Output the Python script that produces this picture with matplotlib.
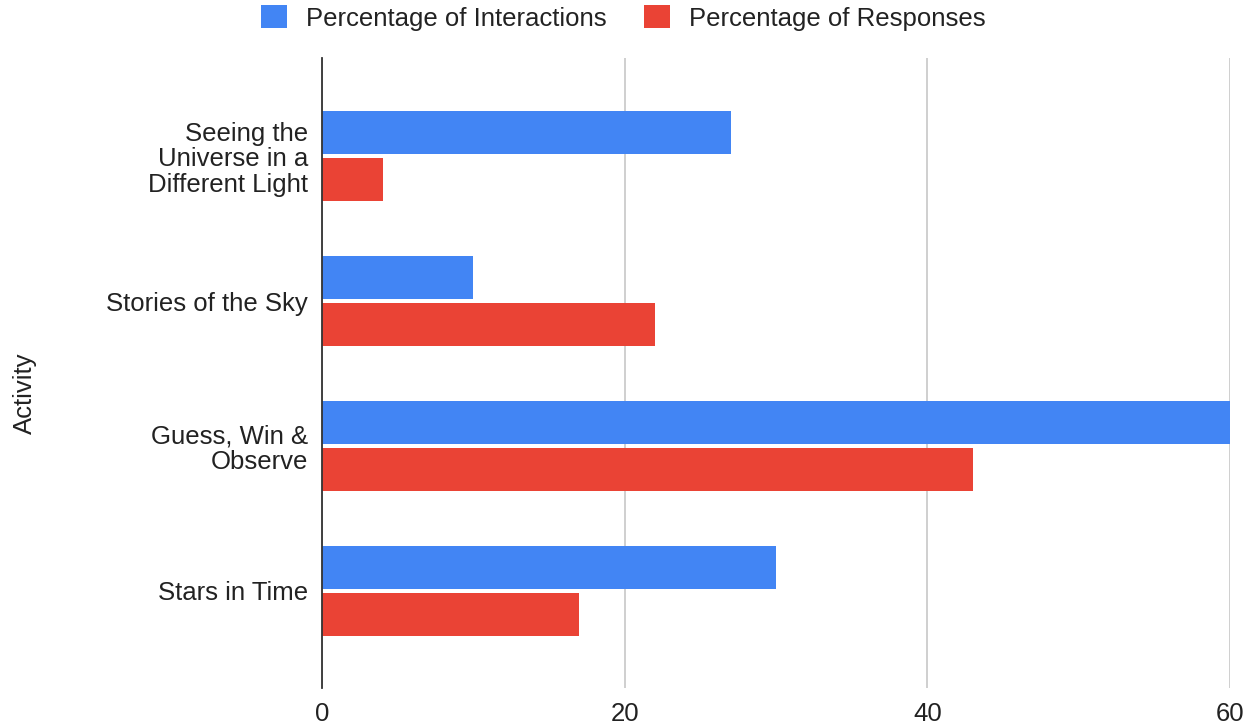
import matplotlib
matplotlib.use("Agg")
import matplotlib.pyplot as plt
import numpy as np
from matplotlib.patches import Patch

plt.rcParams['font.family'] = ['Liberation Sans', 'DejaVu Sans']

activities = ["Seeing the\nUniverse in a\nDifferent Light",
              "Stories of the Sky",
              "Guess, Win &\nObserve",
              "Stars in Time"]
interactions = [27, 10, 60, 30]
responses = [4, 22, 43, 17]
series_names = ["Percentage of Interactions", "Percentage of Responses"]
x_ticks = [0, 20, 40, 60]

blue = "#4285F4"
red = "#EA4335"

fig = plt.figure(figsize=(12.47, 7.27), dpi=100)
ax = fig.add_axes([322 / 1247, 1 - 688 / 727, (1230 - 322) / 1247, (688 - 58) / 727])

y = np.arange(len(activities))
h = 0.297
off = 0.162
ax.barh(y - off, interactions, height=h, color=blue, zorder=3)
ax.barh(y + off, responses, height=h, color=red, zorder=3)

ax.set_xlim(0, 60)
ax.set_ylim(3.669, -0.676)
ax.set_xticks(x_ticks)
ax.set_xticklabels([str(t) for t in x_ticks])
ax.set_yticks(y)
ax.set_yticklabels(activities, linespacing=1.08)
ax.tick_params(axis='both', length=0, labelsize=18.5, colors='#222222')
ax.tick_params(axis='x', pad=10)
ax.tick_params(axis='y', pad=10)

ax.grid(axis='x', color='#cccccc', linewidth=1.3, zorder=0)
ax.grid(axis='y', visible=False)
for s in ['top', 'right', 'bottom']:
    ax.spines[s].set_visible(False)
ax.spines['left'].set_color('#333333')
ax.spines['left'].set_linewidth(1.3)
ax.spines['left'].set_zorder(4)

fig.text(25 / 1247, 1 - 393 / 727, "Activity", rotation=90, ha='center', va='center',
         fontsize=18.5, color='#222222')

handles = [Patch(facecolor=blue, edgecolor='none'), Patch(facecolor=red, edgecolor='none')]
fig.legend(handles, series_names, loc='center', bbox_to_anchor=(0.5, 1 - 18 / 727),
           ncol=2, frameon=False, fontsize=18.5, handlelength=1.0, handleheight=1.0,
           handletextpad=0.75, columnspacing=1.45, labelcolor='#222222')

fig.savefig("out.png", dpi=100)
